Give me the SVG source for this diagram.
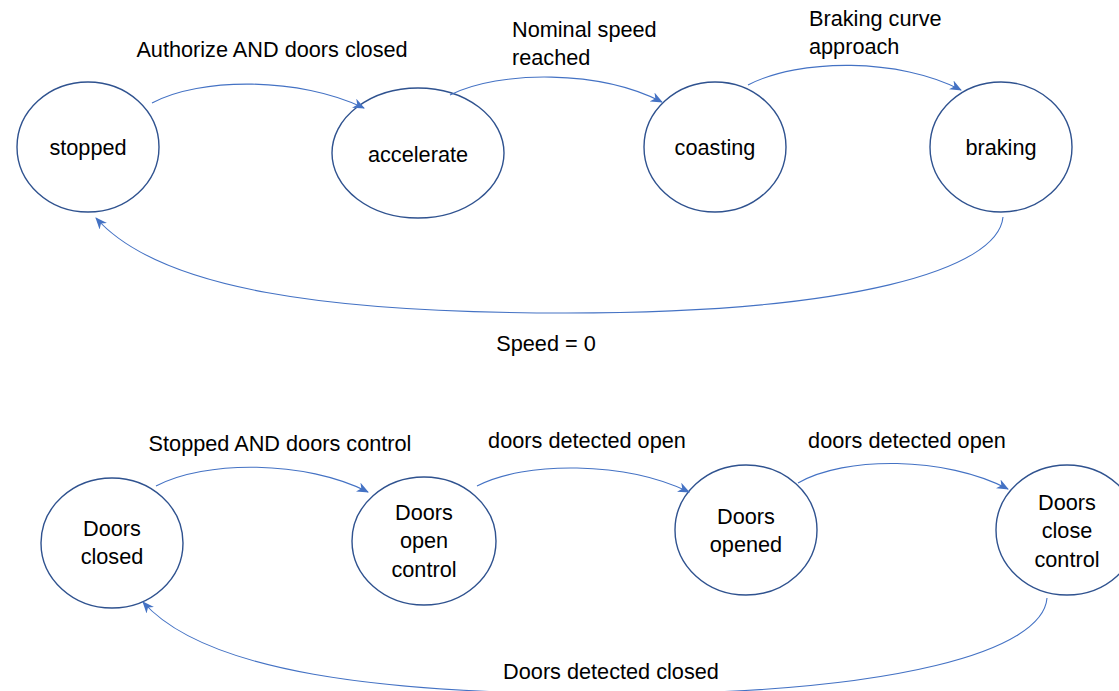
<svg xmlns="http://www.w3.org/2000/svg" width="1119" height="691" viewBox="0 0 1119 691">
  <style>
    .state { fill: #ffffff; stroke: #2f528f; stroke-width: 1.4; }
    .txt { font-family: "Liberation Sans", Arial, sans-serif; font-size: 21.7px; fill: #000000; }
    .mid { text-anchor: middle; }
    .edge { fill: none; stroke: #4472c4; stroke-width: 1.1; marker-end: url(#arrow); }
  </style>
  <defs>
    <marker id="arrow" viewBox="0 0 12 10" refX="11" refY="5" markerWidth="12" markerHeight="10" markerUnits="userSpaceOnUse" orient="auto">
      <path d="M0,0 L12,5 L0,10 L3.5,5 Z" fill="#4472c4"/>
    </marker>
  </defs>

  <rect width="1119" height="691" fill="#ffffff"/>

  <!-- Train motion states -->
  <g id="stopped">
    <ellipse class="state" cx="88" cy="147" rx="71" ry="65"/>
    <text class="txt mid" x="88" y="155">stopped</text>
  </g>
  <g id="accelerate">
    <ellipse class="state" cx="418" cy="153" rx="86" ry="65"/>
    <text class="txt mid" x="418" y="162">accelerate</text>
  </g>
  <g id="coasting">
    <ellipse class="state" cx="715" cy="147" rx="71" ry="65"/>
    <text class="txt mid" x="715" y="155">coasting</text>
  </g>
  <g id="braking">
    <ellipse class="state" cx="1001" cy="147" rx="71" ry="65"/>
    <text class="txt mid" x="1001" y="155">braking</text>
  </g>

  <!-- Door states -->
  <g id="doors-closed">
    <ellipse class="state" cx="112" cy="543" rx="71" ry="65"/>
    <text class="txt mid" x="112" y="536">Doors</text>
    <text class="txt mid" x="112" y="564">closed</text>
  </g>
  <g id="doors-open-control">
    <ellipse class="state" cx="424" cy="541" rx="72" ry="64"/>
    <text class="txt mid" x="424" y="520">Doors</text>
    <text class="txt mid" x="424" y="548">open</text>
    <text class="txt mid" x="424" y="577">control</text>
  </g>
  <g id="doors-opened">
    <ellipse class="state" cx="746" cy="530" rx="71" ry="65"/>
    <text class="txt mid" x="746" y="524">Doors</text>
    <text class="txt mid" x="746" y="552">opened</text>
  </g>
  <g id="doors-close-control">
    <ellipse class="state" cx="1067" cy="530" rx="71" ry="65"/>
    <text class="txt mid" x="1067" y="510">Doors</text>
    <text class="txt mid" x="1067" y="538">close</text>
    <text class="txt mid" x="1067" y="567">control</text>
  </g>

  <!-- Transitions -->
  <g id="connectors">
    <path class="edge" d="M152,103 C200,77 300,77 364,108"/>
    <path class="edge" d="M450,95 C500,70 600,70 662,102"/>
    <path class="edge" d="M748,85 C800,58 900,58 961,90"/>
    <path class="edge" d="M1003,217 C998,270 850,313 566,313 C330,313 160,290 96,218"/>

    <path class="edge" d="M156,486 C205,460 305,460 368,492"/>
    <path class="edge" d="M477,486 C525,461 625,461 689,492"/>
    <path class="edge" d="M798,483 C845,456 945,456 1008,489"/>
    <path class="edge" d="M1047,598 C1043,650 900,694 611,694 C380,694 205,672 143,602"/>
  </g>

  <!-- Transition labels -->
  <g id="labels">
    <text class="txt mid" x="272" y="57">Authorize AND doors closed</text>
    <text class="txt" x="512" y="37">Nominal speed</text>
    <text class="txt" x="512" y="65">reached</text>
    <text class="txt" x="809" y="26">Braking curve</text>
    <text class="txt" x="809" y="54">approach</text>
    <text class="txt mid" x="546" y="351">Speed = 0</text>
    <text class="txt mid" x="280" y="451">Stopped AND doors control</text>
    <text class="txt mid" x="587" y="448">doors detected open</text>
    <text class="txt mid" x="907" y="448">doors detected open</text>
    <text class="txt mid" x="611" y="679">Doors detected closed</text>
  </g>
</svg>
